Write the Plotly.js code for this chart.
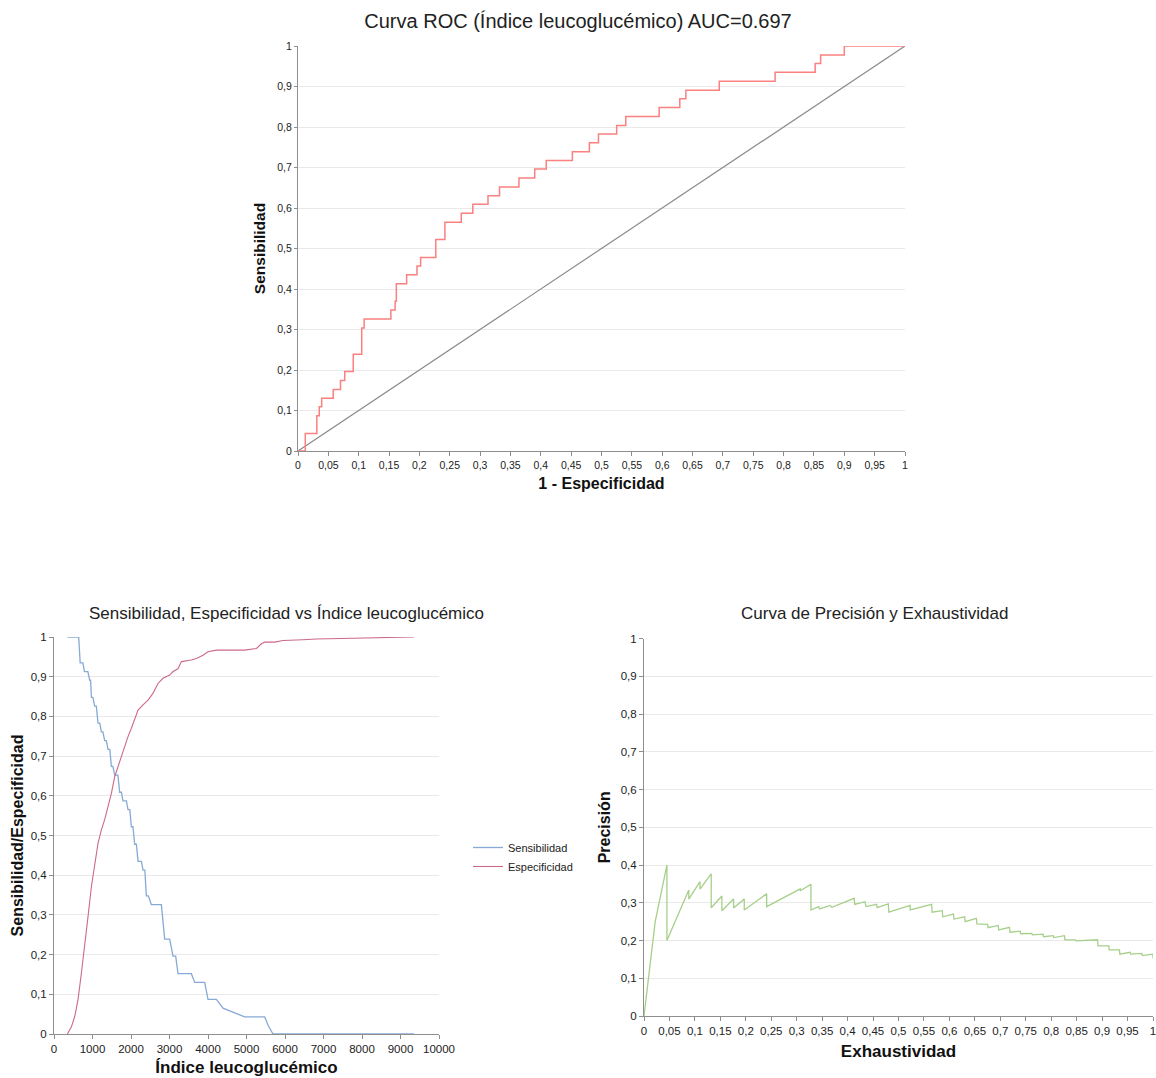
<!DOCTYPE html>
<html>
<head>
<meta charset="utf-8">
<script src="https://cdn.plot.ly/plotly-3.0.1.min.js"></script>
<style>
  html, body { margin: 0; padding: 0; background: #fff; }
  #chart { width: 1156px; height: 1078px; }
</style>
</head>
<body>
<div id="chart"></div>
<script>
// ROC curve: 1 - specificity vs sensitivity (step vertices)
const rocFpr = [0, 0.012, 0.031, 0.035, 0.039, 0.058, 0.070, 0.077, 0.091, 0.105,
                0.109, 0.153, 0.160, 0.162, 0.179, 0.196, 0.202, 0.227, 0.242, 0.269,
                0.288, 0.313, 0.332, 0.364, 0.390, 0.409, 0.452, 0.480, 0.495, 0.525,
                0.540, 0.595, 0.629, 0.639, 0.694, 0.786, 0.852, 0.861, 0.900, 1];
const rocTpr = [0, 0.043, 0.087, 0.109, 0.130, 0.152, 0.174, 0.196, 0.239, 0.304,
                0.326, 0.348, 0.370, 0.413, 0.435, 0.457, 0.478, 0.522, 0.565, 0.587,
                0.609, 0.630, 0.652, 0.674, 0.696, 0.717, 0.739, 0.761, 0.783, 0.804,
                0.826, 0.848, 0.870, 0.891, 0.913, 0.935, 0.957, 0.978, 1.0, 1.0];
const chanceX = [0, 1];
const chanceY = [0, 1];

// Sensitivity and specificity against the leukoglycemic index threshold
const sensIndex = [348, 641, 680, 750, 790, 880, 927, 950, 971, 1010, 1057, 1100, 1143, 1190,
                   1229, 1270, 1316, 1360, 1403, 1450, 1490, 1530, 1576, 1660, 1706, 1750,
                   1792, 1880, 1922, 1970, 2009, 2050, 2096, 2140, 2183, 2270, 2312, 2360,
                   2398, 2450, 2528, 2789, 2875, 3005, 3091, 3160, 3221, 3568, 3654, 3914,
                   4000, 4218, 4390, 4563, 4953, 5473, 5560, 5688, 9350];
const sensValue = [1, 1, 0.935, 0.935, 0.913, 0.913, 0.891, 0.891, 0.848, 0.848, 0.826, 0.826,
                   0.783, 0.783, 0.761, 0.761, 0.739, 0.739, 0.717, 0.717, 0.674, 0.674, 0.652,
                   0.652, 0.609, 0.609, 0.587, 0.587, 0.565, 0.565, 0.522, 0.522, 0.478, 0.478,
                   0.435, 0.435, 0.413, 0.413, 0.348, 0.348, 0.326, 0.326, 0.239, 0.239, 0.196,
                   0.196, 0.152, 0.152, 0.130, 0.130, 0.087, 0.087, 0.065, 0.058, 0.043, 0.043,
                   0.022, 0, 0];
const specIndex = [348, 452, 538, 623, 711, 797, 883, 971, 1057, 1143,
                   1231, 1316, 1403, 1490, 1576, 1662, 1750, 1836, 1922, 2009,
                   2096, 2183, 2312, 2442, 2571, 2701, 2831, 3005, 3091, 3221,
                   3309, 3568, 3698, 3870, 4000, 4218, 4953, 5257, 5387, 5473,
                   5733, 5948, 6468, 6815, 7766, 9350];
const specValue = [0, 0.018, 0.044, 0.086, 0.153, 0.22, 0.295, 0.371, 0.43, 0.48,
                   0.514, 0.54, 0.573, 0.606, 0.648, 0.673, 0.703, 0.724, 0.749, 0.77,
                   0.795, 0.816, 0.829, 0.841, 0.858, 0.883, 0.896, 0.904, 0.913, 0.92,
                   0.938, 0.942, 0.946, 0.954, 0.963, 0.967, 0.967, 0.971, 0.983, 0.987,
                   0.987, 0.991, 0.993, 0.995, 0.997, 1.0];

// Precision-recall curve
const prRecall = [0, 0.022, 0.045, 0.045, 0.088, 0.088, 0.110, 0.110, 0.132, 0.132,
                  0.153, 0.153, 0.176, 0.176, 0.197, 0.197, 0.241, 0.241, 0.307, 0.307,
                  0.328, 0.328, 0.343, 0.345, 0.366, 0.369, 0.413, 0.414, 0.434, 0.436,
                  0.457, 0.458, 0.480, 0.481, 0.523, 0.523, 0.565, 0.566, 0.586, 0.587,
                  0.608, 0.609, 0.630, 0.631, 0.653, 0.654, 0.675, 0.676, 0.696, 0.697,
                  0.718, 0.719, 0.739, 0.740, 0.762, 0.763, 0.784, 0.785, 0.804, 0.805,
                  0.826, 0.827, 0.848, 0.849, 0.891, 0.892, 0.913, 0.914, 0.934, 0.935,
                  0.955, 0.956, 0.978, 0.979, 1.0, 1.0];
const prPrecision = [0, 0.25, 0.40, 0.20, 0.334, 0.31, 0.356, 0.336, 0.377, 0.287,
                     0.318, 0.279, 0.31, 0.286, 0.31, 0.281, 0.324, 0.29, 0.337, 0.332,
                     0.349, 0.281, 0.29, 0.284, 0.293, 0.288, 0.312, 0.296, 0.303, 0.29,
                     0.296, 0.287, 0.297, 0.275, 0.293, 0.281, 0.296, 0.275, 0.279, 0.263,
                     0.27, 0.257, 0.263, 0.25, 0.259, 0.244, 0.243, 0.234, 0.24, 0.228,
                     0.235, 0.222, 0.225, 0.218, 0.219, 0.215, 0.217, 0.21, 0.213, 0.208,
                     0.213, 0.202, 0.202, 0.199, 0.202, 0.186, 0.186, 0.175, 0.175, 0.164,
                     0.169, 0.164, 0.166, 0.16, 0.164, 0.153];

const FONT = '"Liberation Sans", Arial, Helvetica, sans-serif';
const W = 1156, H = 1078;
const px = v => v / W;
const py = v => (H - v) / H;

function axisBase(extra) {
  return Object.assign({
    showline: true, linecolor: '#8e8e8e', linewidth: 1,
    ticks: 'outside', tickcolor: '#8e8e8e', ticklen: 4, tickwidth: 1,
    zeroline: false, showgrid: false, ticklabeloverflow: 'allow',
    tickfont: { family: FONT, size: 10.5, color: '#222' },
    fixedrange: true
  }, extra);
}
function yBase(extra) {
  return axisBase(Object.assign({ showgrid: true, gridcolor: '#e9e9e9', gridwidth: 1 }, extra));
}
function axTitle(text, size, standoff) {
  return { text: text, font: { family: FONT, size: size, color: '#111', weight: 'bold' }, standoff: standoff };
}
const smallTicks = { family: FONT, size: 11.5, color: '#222' };

const traces = [
  { x: chanceX, y: chanceY, xaxis: 'x', yaxis: 'y', mode: 'lines', showlegend: false,
    line: { color: '#8a8a8a', width: 1.2 }, hoverinfo: 'skip' },
  { x: rocFpr, y: rocTpr, xaxis: 'x', yaxis: 'y', mode: 'lines', showlegend: false,
    line: { color: '#fb8080', width: 1.5, shape: 'hv' } },
  { x: sensIndex, y: sensValue, xaxis: 'x2', yaxis: 'y2', mode: 'lines', name: 'Sensibilidad',
    line: { color: '#86aad6', width: 1.3 } },
  { x: specIndex, y: specValue, xaxis: 'x2', yaxis: 'y2', mode: 'lines', name: 'Especificidad',
    line: { color: '#cc6a88', width: 1.1 } },
  { x: prRecall, y: prPrecision, xaxis: 'x3', yaxis: 'y3', mode: 'lines', showlegend: false,
    line: { color: '#a6cf8a', width: 1.3 } }
];

const layout = {
  width: W, height: H,
  margin: { l: 0, r: 0, t: 0, b: 0 },
  paper_bgcolor: '#fff', plot_bgcolor: '#fff',
  separators: ',.',
  font: { family: FONT, color: '#222' },
  title: {
    text: 'Curva ROC (Índice leucoglucémico) AUC=0.697',
    font: { family: FONT, size: 20, color: '#222' },
    x: 0.5, xanchor: 'center', y: py(21), yanchor: 'middle'
  },
  xaxis: axisBase({ domain: [px(298), px(905)], range: [0, 1], dtick: 0.05, tick0: 0,
                    anchor: 'y', title: axTitle('1 - Especificidad', 16, 8) }),
  yaxis: yBase({ domain: [py(451), py(46)], range: [0, 1], dtick: 0.1, tick0: 0, anchor: 'x',
                 ticklen: 3, title: axTitle('Sensibilidad', 15.5, 7) }),
  xaxis2: axisBase({ domain: [px(54), px(439)], range: [0, 10000], dtick: 1000, tick0: 0,
                     tickformat: 'd', anchor: 'y2', tickfont: smallTicks,
                     title: axTitle('Índice leucoglucémico', 17, 7) }),
  yaxis2: yBase({ domain: [py(1034), py(637)], range: [0, 1], dtick: 0.1, tick0: 0, anchor: 'x2',
                  tickfont: smallTicks,
                  title: axTitle('Sensibilidad/Especificidad', 16, 3) }),
  xaxis3: axisBase({ domain: [px(644), px(1153)], range: [0, 1], dtick: 0.05, tick0: 0, anchor: 'y3',
                     tickfont: smallTicks,
                     title: axTitle('Exhaustividad', 17, 9) }),
  yaxis3: yBase({ domain: [py(1016), py(638.7)], range: [0, 1], dtick: 0.1, tick0: 0, anchor: 'x3',
                  tickfont: smallTicks,
                  title: axTitle('Precisión', 16, 6) }),
  legend: {
    x: px(468), y: py(833), xanchor: 'left', yanchor: 'top',
    font: { family: FONT, size: 11, color: '#222' },
    bgcolor: 'rgba(0,0,0,0)', itemwidth: 30, tracegroupgap: 0
  },
  annotations: [
    { text: 'Sensibilidad, Especificidad vs Índice leucoglucémico', xref: 'paper', yref: 'paper',
      x: px(286), y: py(613), xanchor: 'center', yanchor: 'middle', showarrow: false,
      font: { family: FONT, size: 17, color: '#222' } },
    { text: 'Curva de Precisión y Exhaustividad', xref: 'paper', yref: 'paper',
      x: px(874), y: py(613), xanchor: 'center', yanchor: 'middle', showarrow: false,
      font: { family: FONT, size: 17, color: '#222' } }
  ]
};

Plotly.newPlot('chart', traces, layout, { displayModeBar: false, staticPlot: true });
</script>
</body>
</html>
